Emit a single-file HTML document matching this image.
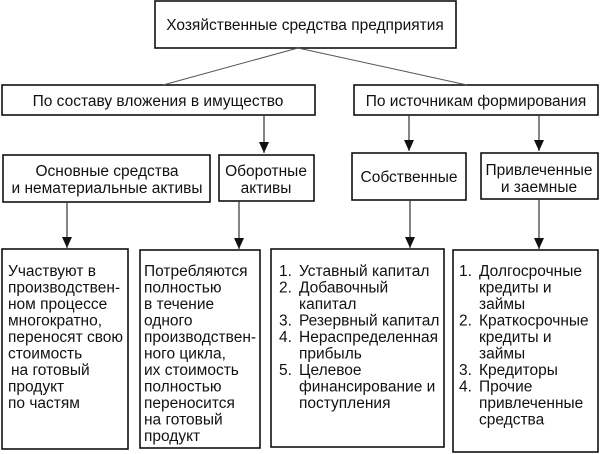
<!DOCTYPE html>
<html><head><meta charset="utf-8"><style>
body{margin:0;background:#fff;}
svg{display:block;font-family:"Liberation Sans",sans-serif;}
text{font-size:15.5px;fill:#111;}
</style></head><body>
<svg width="600" height="454" viewBox="0 0 600 454" xmlns="http://www.w3.org/2000/svg">
<defs><marker id="a" markerWidth="10" markerHeight="12" refX="5" refY="11" orient="0" markerUnits="userSpaceOnUse"><path d="M0,0 L10,0 L5,11 Z" fill="#111"/></marker></defs>
<g fill="none" stroke="#111" stroke-width="1.6">
<rect x="155" y="1" width="301" height="47"/>
<rect x="2" y="85" width="313" height="30"/>
<rect x="354" y="85" width="244" height="30"/>
<rect x="3" y="155" width="207" height="47"/>
<rect x="219" y="155" width="95" height="46"/>
<rect x="352" y="153" width="114" height="47"/>
<rect x="481" y="153" width="117" height="46"/>
<rect x="2" y="249" width="126" height="200"/>
<rect x="140" y="250" width="120" height="198"/>
<rect x="271" y="249" width="173" height="198"/>
<rect x="453" y="250" width="145" height="202"/>
</g>
<g stroke="#555" stroke-width="1">
<line x1="298" y1="48" x2="163" y2="85"/>
<line x1="298" y1="48" x2="467" y2="85"/>
</g>
<g stroke="#333" stroke-width="1.2" marker-end="url(#a)">
<line x1="264" y1="115" x2="264" y2="153"/>
<line x1="409" y1="115" x2="409" y2="151"/>
<line x1="539" y1="115" x2="539" y2="151"/>
<line x1="67" y1="202" x2="67" y2="248"/>
<line x1="239" y1="201" x2="239" y2="249"/>
<line x1="410" y1="200" x2="410" y2="248"/>
<line x1="539" y1="199" x2="539" y2="249"/>
</g>
<text x="305" y="30" text-anchor="middle">Хозяйственные средства предприятия</text>
<text x="158" y="106" text-anchor="middle">По составу вложения в имущество</text>
<text x="476" y="106" text-anchor="middle">По источникам формирования</text>
<text x="107" y="176" text-anchor="middle">Основные средства</text>
<text x="107" y="193" text-anchor="middle">и нематериальные активы</text>
<text x="266" y="176" text-anchor="middle">Оборотные</text>
<text x="266" y="193" text-anchor="middle">активы</text>
<text x="409" y="182" text-anchor="middle">Собственные</text>
<text x="539" y="175" text-anchor="middle">Привлеченные</text>
<text x="539" y="192" text-anchor="middle">и заемные</text>
<g>
<text x="8" y="276">Участвуют в</text>
<text x="8" y="292.5">производствен-</text>
<text x="8" y="309">ном процессе</text>
<text x="8" y="325.5">многократно,</text>
<text x="8" y="342">переносят свою</text>
<text x="8" y="358.5">стоимость</text>
<text x="11" y="375">на готовый</text>
<text x="8" y="391.5">продукт</text>
<text x="8" y="408">по частям</text>
</g>
<g>
<text x="144" y="276">Потребляются</text>
<text x="144" y="292.5">полностью</text>
<text x="144" y="309">в течение</text>
<text x="144" y="325.5">одного</text>
<text x="144" y="342">производствен-</text>
<text x="144" y="358.5">ного цикла,</text>
<text x="144" y="375">их стоимость</text>
<text x="144" y="391.5">полностью</text>
<text x="144" y="408">переносится</text>
<text x="144" y="424.5">на готовый</text>
<text x="144" y="441">продукт</text>
</g>
<g>
<text x="279" y="276">1.</text><text x="299" y="276">Уставный капитал</text>
<text x="279" y="292.5">2.</text><text x="299" y="292.5">Добавочный</text>
<text x="299" y="309">капитал</text>
<text x="279" y="325.5">3.</text><text x="299" y="325.5">Резервный капитал</text>
<text x="279" y="342">4.</text><text x="299" y="342">Нераспределенная</text>
<text x="299" y="358.5">прибыль</text>
<text x="279" y="375">5.</text><text x="299" y="375">Целевое</text>
<text x="299" y="391.5">финансирование и</text>
<text x="299" y="408">поступления</text>
</g>
<g>
<text x="459" y="276">1.</text><text x="479" y="276">Долгосрочные</text>
<text x="479" y="292.5">кредиты и</text>
<text x="479" y="309">займы</text>
<text x="459" y="325.5">2.</text><text x="479" y="325.5">Краткосрочные</text>
<text x="479" y="342">кредиты и</text>
<text x="479" y="358.5">займы</text>
<text x="459" y="375">3.</text><text x="479" y="375">Кредиторы</text>
<text x="459" y="391.5">4.</text><text x="479" y="391.5">Прочие</text>
<text x="479" y="408">привлеченные</text>
<text x="479" y="424.5">средства</text>
</g>
</svg>
</body></html>
